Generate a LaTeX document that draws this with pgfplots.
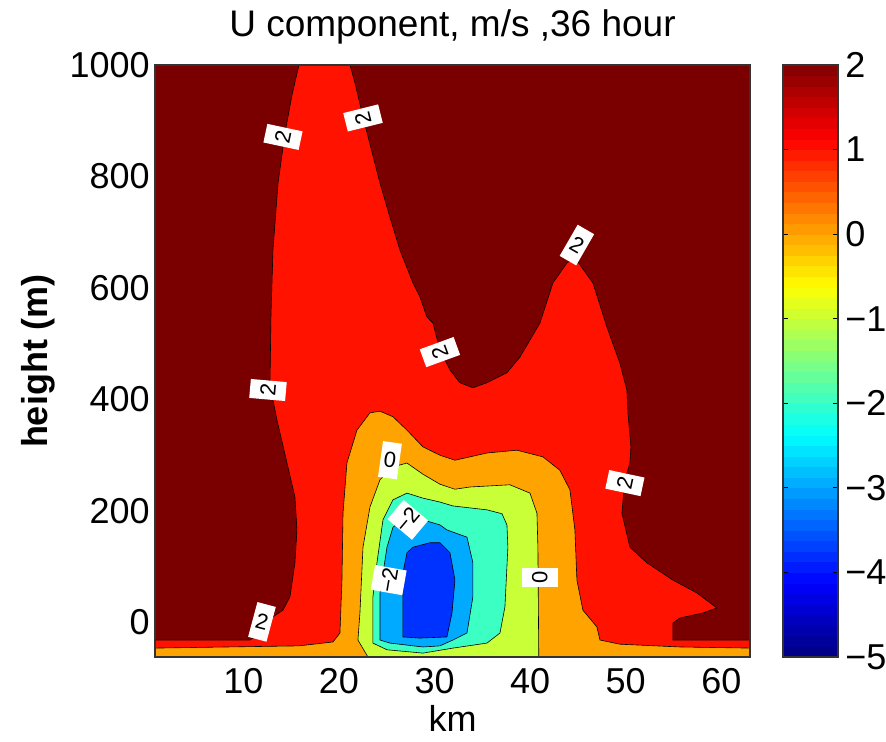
\documentclass[border=0pt]{standalone}
\usepackage{pgfplots}
\pgfplotsset{compat=1.18}
\usepackage{fontspec}
\setmainfont{Liberation Sans}
\definecolor{c2}{RGB}{122,0,0}
\definecolor{c1}{RGB}{255,18,0}
\definecolor{c0}{RGB}{255,163,0}
\definecolor{cm1}{RGB}{200,255,55}
\definecolor{cm2}{RGB}{60,255,195}
\definecolor{cm3}{RGB}{0,170,255}
\definecolor{cm4}{RGB}{0,50,255}
\begin{document}
\begin{tikzpicture}[lbl/.style={fill=white, inner sep=0pt, minimum width=9.5pt, minimum height=18pt, font=\fontsize{11}{12}\selectfont}]
\path[use as bounding box] (-77.5pt,-42pt) rectangle (365.5pt,328.5pt);
\begin{axis}[
 at={(0,0)}, anchor=south west,
 scale only axis, width=297.5pt, height=296pt,
 xmin=0.75, xmax=63, ymin=-62, ymax=1000,
 xtick={10,20,...,60}, ytick={0,200,...,1000},
 major tick length=0pt,
 /pgf/number format/assume math mode=true,
 /pgf/number format/1000 sep={},
 tick label style={font=\fontsize{18}{20}\selectfont},
 xticklabel style={anchor=center, yshift=-12pt},
 yticklabel style={anchor=east, inner sep=0pt, xshift=-2.5pt},
 xlabel={km},
 xlabel style={at={(axis description cs:0.5,-0.103)}, anchor=center, font=\fontsize{18}{20}\selectfont},
 ylabel={height (m)},
 ylabel style={at={(axis description cs:-0.197,0.5)}, anchor=center, font=\fontsize{18}{20}\selectfont\bfseries},
 axis on top,
 axis line style={line width=0.6pt, black!80},
]
\addplot[fill=c2, draw=none] coordinates {(0.75,-62) (63,-62) (63,1000) (0.75,1000)} -- cycle;
\addplot[fill=c1, draw=black, line width=0.3pt] coordinates {
(0.75,-31.5) (10.69,-31.5) (11.94,-17) (13.09,10) (14.14,22) (14.87,46) (15.39,107) (15.60,166) (15.39,225) (14.56,286) (13.51,363) (13.09,399) (12.78,430) (12.88,548) (13.09,668) (13.62,788) (14.35,878) (15.08,946) (15.81,1000) (21.15,1000) (21.67,968) (22.51,907) (24.29,788) (25.33,727) (26.38,668) (27.74,609) (28.47,584) (29.20,548) (29.83,537) (30.56,489) (31.61,453) (32.65,430) (34.01,421) (35.48,430) (37.57,448) (38.93,476) (41.02,537) (42.38,609) (43.85,645) (44.68,654) (46.57,609) (48.03,530) (49.39,465) (50.12,417) (50.23,376) (50.54,315) (50.44,286) (49.91,256) (49.60,196) (50.44,135) (52.21,107) (54.93,76) (57.44,53) (59.54,26) (58.07,17) (55.67,8) (54.93,-1) (54.93,-31.5) (63,-31.5) (63,-62) (0.75,-62)} -- cycle;
\addplot[fill=c0, draw=black, line width=0.3pt] coordinates {
(0.75,-46) (15.81,-42) (19.37,-35) (20.10,-19) (20.31,76) (20.42,196) (20.83,286) (21.88,345) (23.24,376) (24.29,379) (25.65,369) (27.11,345) (28.78,315) (30.56,300) (32.13,291) (33.70,297) (35.48,304) (38.62,309) (41.34,297) (43.11,273) (44.16,238) (44.68,166) (44.89,76) (45.52,22) (46.98,-8) (47.30,-31.5) (49.39,-39) (55.67,-44) (63,-46) (63,-62) (0.75,-62)} -- cycle;
\addplot[fill=cm1, draw=black, line width=0.3pt] coordinates {
(23.03,-62) (21.98,-31.5) (22.19,17) (22.51,135) (23.24,207) (24.29,256) (25.65,279) (27.11,286) (28.78,266) (30.56,248) (32.13,239) (33.70,243) (37.88,247) (39.98,232) (40.71,196) (40.81,135) (40.9,-62)} -- cycle;
\addplot[fill=cm2, draw=black, line width=0.3pt] coordinates {
(23.55,-37) (23.55,46) (23.97,107) (24.60,184) (25.65,220) (27.11,232) (28.78,223) (30.56,216) (31.92,209) (35.48,202) (37.05,195) (37.57,175) (37.67,135) (37.36,28) (36.84,-19) (35.48,-37) (31.92,-46) (28.78,-55) (25.02,-49)} -- cycle;
\addplot[fill=cm3, draw=black, line width=0.3pt] coordinates {
(24.29,-31.5) (24.29,53) (25.02,135) (25.65,171) (27.11,189) (28.78,184) (30.56,175) (31.29,166) (33.39,153) (34.01,107) (34.01,46) (33.39,-19) (31.92,-31.5) (30.56,-42) (28.78,-44) (25.33,-37)} -- cycle;
\addplot[fill=cm4, draw=black, line width=0.3pt] coordinates {
(26.69,-26) (26.69,89) (27.11,125) (27.74,135) (29.52,143) (30.56,143) (31.61,125) (32.13,76) (31.82,17) (31.29,-26) (28.47,-28)} -- cycle;
\node[lbl, rotate=78] at (axis cs:14.14,871) {2};
\node[lbl, rotate=104] at (axis cs:22.51,905) {2};
\node[lbl, rotate=110] at (axis cs:30.56,485) {2};
\node[lbl, rotate=-30] at (axis cs:44.89,677) {2};
\node[lbl, rotate=85] at (axis cs:12.57,417) {2};
\node[lbl, rotate=78] at (axis cs:49.91,250) {2};
\node[lbl, rotate=-15] at (axis cs:11.94,1) {2};
\node[lbl, rotate=-8] at (axis cs:25.33,291) {0};
\node[lbl, rotate=90] at (axis cs:41.02,80) {0};
\node[lbl, minimum height=16pt, rotate=50] at (axis cs:27.2,184) {−2};
\node[lbl, minimum height=16pt, rotate=80] at (axis cs:25.2,76) {−2};
\end{axis}
\node[font=\fontsize{18.5}{20}\selectfont] at (148.75pt,315pt) {U component, m/s ,36 hour};
\begin{axis}[
 at={(314pt,0)}, anchor=south west,
 scale only axis, width=27.5pt, height=296pt,
 xmin=0, xmax=1, ymin=-5, ymax=2,
 xtick=\empty, ytick={-5,-4,...,2}, yticklabels={−5,−4,−3,−2,−1,0,1,2},
 ytick pos=both, yticklabel pos=right,
 tick align=inside, major tick length=2.5pt,
 tick style={black, line width=0.6pt},
 axis on top,
 axis line style={line width=0.6pt, black!80},
 yticklabel style={font=\fontsize{18}{20}\selectfont, anchor=west, inner sep=0pt, xshift=3.5pt},
 colormap/jet, point meta min=-5, point meta max=2,
]
\addplot[surf, shader=flat mean, point meta=y, mesh/cols=2, draw=none] coordinates {
(0,-5) (1,-5) (0,-4.875) (1,-4.875) (0,-4.75) (1,-4.75) (0,-4.625) (1,-4.625)
(0,-4.5) (1,-4.5) (0,-4.375) (1,-4.375) (0,-4.25) (1,-4.25) (0,-4.125) (1,-4.125)
(0,-4) (1,-4) (0,-3.875) (1,-3.875) (0,-3.75) (1,-3.75) (0,-3.625) (1,-3.625)
(0,-3.5) (1,-3.5) (0,-3.375) (1,-3.375) (0,-3.25) (1,-3.25) (0,-3.125) (1,-3.125)
(0,-3) (1,-3) (0,-2.875) (1,-2.875) (0,-2.75) (1,-2.75) (0,-2.625) (1,-2.625)
(0,-2.5) (1,-2.5) (0,-2.375) (1,-2.375) (0,-2.25) (1,-2.25) (0,-2.125) (1,-2.125)
(0,-2) (1,-2) (0,-1.875) (1,-1.875) (0,-1.75) (1,-1.75) (0,-1.625) (1,-1.625)
(0,-1.5) (1,-1.5) (0,-1.375) (1,-1.375) (0,-1.25) (1,-1.25) (0,-1.125) (1,-1.125)
(0,-1) (1,-1) (0,-0.875) (1,-0.875) (0,-0.75) (1,-0.75) (0,-0.625) (1,-0.625)
(0,-0.5) (1,-0.5) (0,-0.375) (1,-0.375) (0,-0.25) (1,-0.25) (0,-0.125) (1,-0.125)
(0,0) (1,0) (0,0.125) (1,0.125) (0,0.25) (1,0.25) (0,0.375) (1,0.375)
(0,0.5) (1,0.5) (0,0.625) (1,0.625) (0,0.75) (1,0.75) (0,0.875) (1,0.875)
(0,1) (1,1) (0,1.125) (1,1.125) (0,1.25) (1,1.25) (0,1.375) (1,1.375)
(0,1.5) (1,1.5) (0,1.625) (1,1.625) (0,1.75) (1,1.75) (0,1.875) (1,1.875)
(0,2) (1,2)};
\end{axis}
\end{tikzpicture}
\end{document}
